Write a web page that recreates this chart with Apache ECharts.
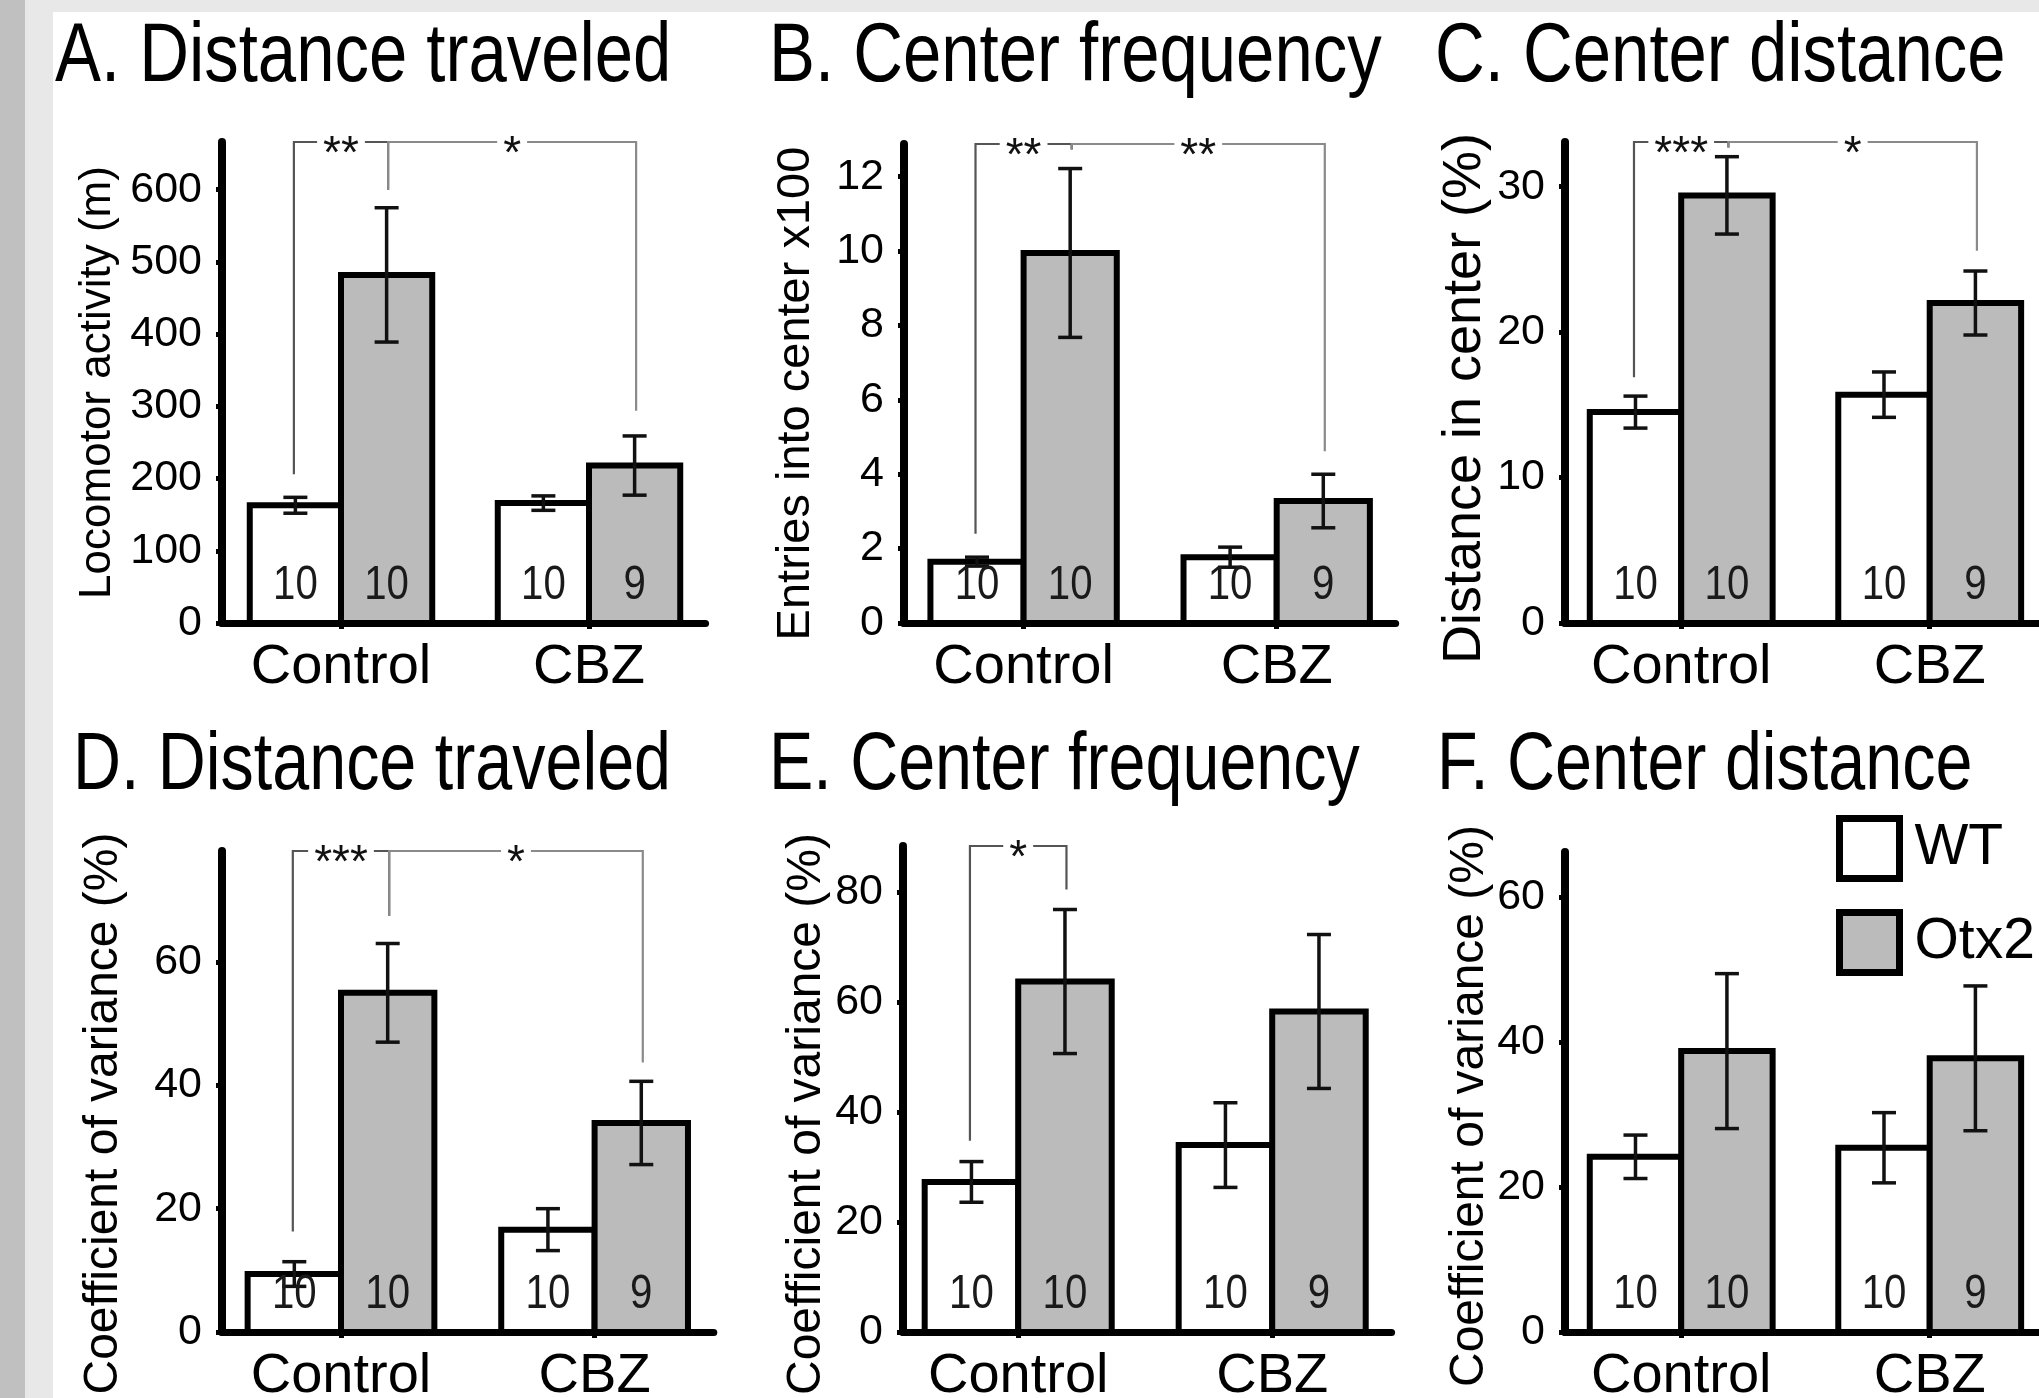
<!DOCTYPE html>
<html>
<head>
<meta charset="utf-8">
<script src="https://cdn.jsdelivr.net/npm/echarts@6/dist/echarts.min.js"></script>
<style>
html,body{margin:0;padding:0;background:#fff;}
#chart{width:2039px;height:1398px;}
</style>
</head>
<body>
<div id="chart"></div>
<script>
// ---------------- data ----------------
const categories = ['Control', 'CBZ'];
const groups = ['WT', 'Otx2'];
const nWT = [10, 10];
const nOtx2 = [10, 9];

const titles = ['A. Distance traveled', 'B. Center frequency', 'C. Center distance',
                'D. Distance traveled', 'E. Center frequency', 'F. Center distance'];
const yNames = ['Locomotor activity (m)', 'Entries into center x100', 'Distance in center (%)',
                'Coefficient of variance (%)', 'Coefficient of variance (%)', 'Coefficient of variance (%)'];

// A. distance traveled (m)
const distWT = [163, 166];
const distWTErr = [11, 10];
const distOtx2 = [482, 218];
const distOtx2Err = [93, 41];
const distTicks = [0, 100, 200, 300, 400, 500, 600];
// B. entries into center (x100)
const freqWT = [1.65, 1.77];
const freqWTErr = [0.12, 0.27];
const freqOtx2 = [9.95, 3.28];
const freqOtx2Err = [2.27, 0.72];
const freqTicks = [0, 2, 4, 6, 8, 10, 12];
// C. distance in center (%)
const cdistWT = [14.5, 15.7];
const cdistWTErr = [1.1, 1.56];
const cdistOtx2 = [29.4, 22.0];
const cdistOtx2Err = [2.66, 2.2];
const cdistTicks = [0, 10, 20, 30];
// D. CV of distance traveled (%)
const cvDistWT = [9.4, 16.6];
const cvDistWTErr = [2.0, 3.4];
const cvDistOtx2 = [55.0, 33.9];
const cvDistOtx2Err = [8.0, 6.75];
const cvDistTicks = [0, 20, 40, 60];
// E. CV of center frequency (%)
const cvFreqWT = [27.3, 34.0];
const cvFreqWTErr = [3.7, 7.7];
const cvFreqOtx2 = [63.75, 58.3];
const cvFreqOtx2Err = [13.1, 14.0];
const cvFreqTicks = [0, 20, 40, 60, 80];
// F. CV of center distance (%)
const cvCdistWT = [24.2, 25.45];
const cvCdistWTErr = [3.0, 4.85];
const cvCdistOtx2 = [38.8, 37.8];
const cvCdistOtx2Err = [10.7, 10.0];
const cvCdistTicks = [0, 20, 40, 60];

// axis maxima (value at top of y axis line)
const yMaxes = [666, 12.88, 33.07, 78, 88.4, 66.3];

// significance brackets: [fromBar, toBar, label, value where left drop ends, value where right drop ends]
// bar index: 0 WT-Control, 1 Otx2-Control, 2 WT-CBZ, 3 Otx2-CBZ
const sigA = [[0, 1, '**', 206, 600], [1, 3, '*', 600, 294]];
const sigB = [[0, 1, '**', 2.4, 12.73], [1, 3, '**', 12.73, 4.62]];
const sigC = [[0, 1, '***', 16.9, 32.7], [1, 3, '*', 32.7, 25.6]];
const sigD = [[0, 1, '***', 16.3, 67.5], [1, 3, '*', 67.5, 43.7]];
const sigE = [[0, 1, '*', 34.8, 80.5]];
const sigF = [];

// ---------------- layout / style ----------------
const FONT = "'Liberation Sans', Arial, sans-serif";
const NARROW = 0.82;      // horizontal squeeze for a narrow-sans look
const GRAY = '#bbbbbb';
const BAR_W = 0.38;       // bar width in category units
const BORDER = 6;
const CAP = 12;
const X_MAX = 1.47;
const BRACKET_COLORS = ['#555555', '#8a8a8a'];

// per panel: y-axis x, control centre x, cbz centre x, axis top y, axis bottom y (px)
const layout = [
  [222, 341, 589, 142, 623],
  [904, 1023.6, 1276.7, 144, 623],
  [1565, 1681.2, 1929.7, 142, 623],
  [222, 341, 594.6, 851, 1332],
  [903, 1018.2, 1272.2, 846, 1332],
  [1565, 1681.2, 1929.7, 852, 1332]
];
// title x, y, font size
const titlePos = [[55, 16, 84], [769, 16, 84], [1435, 16, 84], [73, 726, 81], [769, 726, 81], [1437, 726, 81]];
const yNameStyle = [ // fontSize, nameGap, shift-padding
  [44, 102, 0], [47, 84, 20], [54, 73, 32], [48, 94, 44], [48, 72, 50], [48, 67, 28]
];

const panels = [
  [distWT, distWTErr, distOtx2, distOtx2Err, distTicks, sigA],
  [freqWT, freqWTErr, freqOtx2, freqOtx2Err, freqTicks, sigB],
  [cdistWT, cdistWTErr, cdistOtx2, cdistOtx2Err, cdistTicks, sigC],
  [cvDistWT, cvDistWTErr, cvDistOtx2, cvDistOtx2Err, cvDistTicks, sigD],
  [cvFreqWT, cvFreqWTErr, cvFreqOtx2, cvFreqOtx2Err, cvFreqTicks, sigE],
  [cvCdistWT, cvCdistWTErr, cvCdistOtx2, cvCdistOtx2Err, cvCdistTicks, sigF]
];

function barX(i) {
  const cat = Math.floor(i / 2);
  return cat + (i % 2 === 0 ? -BAR_W / 2 : BAR_W / 2);
}

function barRenderer(side, fill) {
  return function (params, api) {
    const cat = api.value(0), v = api.value(1), e = api.value(2), n = api.value(3);
    const xa = side < 0 ? cat - BAR_W : cat;
    const xb = side < 0 ? cat : cat + BAR_W;
    const pa = api.coord([xa, v]);
    const pb = api.coord([xb, 0]);
    let left = pa[0], right = pb[0];
    if (side < 0) left += BORDER / 2; else right -= BORDER / 2;
    const top = pa[1], bottom = pb[1];
    const xc = (left + right) / 2;
    const eTop = api.coord([cat, v + e])[1];
    const eBot = api.coord([cat, v - e])[1];
    const ls = { stroke: '#111', lineWidth: 3.5 };
    return {
      type: 'group',
      children: [
        { type: 'rect', shape: { x: left, y: top, width: right - left, height: bottom - top },
          style: { fill: fill, stroke: '#000', lineWidth: BORDER } },
        { type: 'line', shape: { x1: xc, y1: eTop, x2: xc, y2: eBot }, style: ls },
        { type: 'line', shape: { x1: xc - CAP, y1: eTop, x2: xc + CAP, y2: eTop }, style: ls },
        { type: 'line', shape: { x1: xc - CAP, y1: eBot, x2: xc + CAP, y2: eBot }, style: ls },
        { type: 'text', x: xc, y: bottom - 38, scaleX: NARROW,
          style: { text: String(n), fill: '#1a1a1a', fontSize: 49, fontFamily: FONT,
                   align: 'center', verticalAlign: 'middle' } }
      ]
    };
  };
}

function bracketRenderer(sig, yMax) {
  return function (params, api) {
    const x1 = api.value(0), x2 = api.value(1), d1 = api.value(2), d2 = api.value(3);
    const a = api.coord([x1, d1]), b = api.coord([x1, yMax]);
    const c = api.coord([x2, yMax]), d = api.coord([x2, d2]);
    const color = BRACKET_COLORS[params.dataIndex % BRACKET_COLORS.length];
    return {
      type: 'group',
      children: [
        { type: 'polyline', shape: { points: [a, b, c, d] },
          style: { stroke: color, lineWidth: 2.2, fill: null } },
        { type: 'text', x: (b[0] + c[0]) / 2, y: b[1] + 13,
          style: { text: sig[params.dataIndex][2], fill: '#111', fontSize: 46, fontFamily: FONT,
                   align: 'center', verticalAlign: 'middle', backgroundColor: '#fff',
                   padding: [0, 6], lineHeight: 34 } }
      ]
    };
  };
}

const grids = [], xAxes = [], yAxes = [], series = [], titleGraphics = [];
panels.forEach(function (p, k) {
  const [wt, wtErr, ot, otErr, ticks, sig] = p;
  const [axX, c0, c1, top, base] = layout[k];
  const scale = c1 - c0;
  const xMin = (axX - c0) / scale;
  grids.push({ left: axX, top: top, width: (X_MAX - xMin) * scale, height: base - top,
               containLabel: false, outerBoundsMode: 'none' });
  xAxes.push({
    type: 'value', gridIndex: k, min: xMin, max: X_MAX,
    axisLine: { show: true, onZero: false, lineStyle: { color: '#000', width: 7 } },
    axisTick: { show: true, customValues: [0, 1], length: 6, lineStyle: { color: '#000', width: 5 } },
    axisLabel: { show: true, customValues: [0, 1], margin: 17,
      formatter: function (v) { return categories[Math.round(v)]; },
      color: '#000', fontSize: 56, fontFamily: FONT },
    splitLine: { show: false }
  });
  const yn = yNameStyle[k];
  yAxes.push({
    type: 'value', gridIndex: k, min: 0, max: yMaxes[k],
    name: yNames[k], nameLocation: 'middle', nameRotate: 90, nameGap: yn[1],
    nameTextStyle: { color: '#000', fontSize: yn[0], fontFamily: FONT, padding: [0, yn[2], 0, 0] },
    axisLine: { show: true, onZero: false, lineStyle: { color: '#000', width: 8 } },
    axisTick: { show: true, customValues: ticks, length: 6, inside: false, lineStyle: { color: '#000', width: 5 } },
    axisLabel: { show: true, customValues: ticks, margin: 20, color: '#000', fontSize: 43, fontFamily: FONT },
    splitLine: { show: false }
  });
  titleGraphics.push({
    type: 'text', x: titlePos[k][0], y: titlePos[k][1], scaleX: NARROW, silent: true,
    style: { text: titles[k], fontSize: titlePos[k][2], fontFamily: FONT, fill: '#000',
             align: 'left', verticalAlign: 'top', textAlign: 'left', textVerticalAlign: 'top' }
  });
  series.push({
    type: 'custom', name: groups[0], xAxisIndex: k, yAxisIndex: k,
    renderItem: barRenderer(-1, '#ffffff'),
    encode: { x: 0, y: 1 },
    itemStyle: { color: '#ffffff' },
    data: categories.map(function (c, i) { return [i, wt[i], wtErr[i], nWT[i]]; }),
    z: 3
  });
  series.push({
    type: 'custom', name: groups[1], xAxisIndex: k, yAxisIndex: k,
    renderItem: barRenderer(1, GRAY),
    encode: { x: 0, y: 1 },
    itemStyle: { color: GRAY },
    data: categories.map(function (c, i) { return [i, ot[i], otErr[i], nOtx2[i]]; }),
    z: 3
  });
  if (sig.length) {
    series.push({
      type: 'custom', name: 'sig' + k, xAxisIndex: k, yAxisIndex: k,
      renderItem: bracketRenderer(sig, yMaxes[k]),
      encode: { x: 0, y: 2 },
      data: sig.map(function (s) { return [barX(s[0]), barX(s[1]), s[3], s[4]]; }),
      z: 4, silent: true
    });
  }
});

const chart = echarts.init(document.getElementById('chart'), null, { renderer: 'canvas' });
chart.setOption({
  backgroundColor: '#ffffff',
  animation: false,
  grid: grids,
  xAxis: xAxes,
  yAxis: yAxes,
  legend: {
    data: [
      { name: 'WT', icon: 'rect', itemStyle: { color: '#ffffff', borderColor: '#000', borderWidth: 7 } },
      { name: 'Otx2', icon: 'rect', itemStyle: { color: GRAY, borderColor: '#000', borderWidth: 7 } }
    ],
    orient: 'vertical', left: 1836, top: 815, padding: 0,
    itemWidth: 60, itemHeight: 60, itemGap: 27, selectedMode: false,
    textStyle: { fontSize: 57, fontFamily: FONT, color: '#000', lineHeight: 60, padding: [0, 0, 0, 10] }
  },
  graphic: [
    { type: 'rect', silent: true, z: -10, shape: { x: 0, y: 0, width: 25, height: 1398 }, style: { fill: '#c0c0c0' } },
    { type: 'rect', silent: true, z: -10, shape: { x: 25, y: 0, width: 28, height: 1398 }, style: { fill: '#e8e8e8' } },
    { type: 'rect', silent: true, z: -10, shape: { x: 53, y: 0, width: 1986, height: 12 }, style: { fill: '#e8e8e8' } }
  ].concat(titleGraphics),
  series: series
});
</script>
</body>
</html>
